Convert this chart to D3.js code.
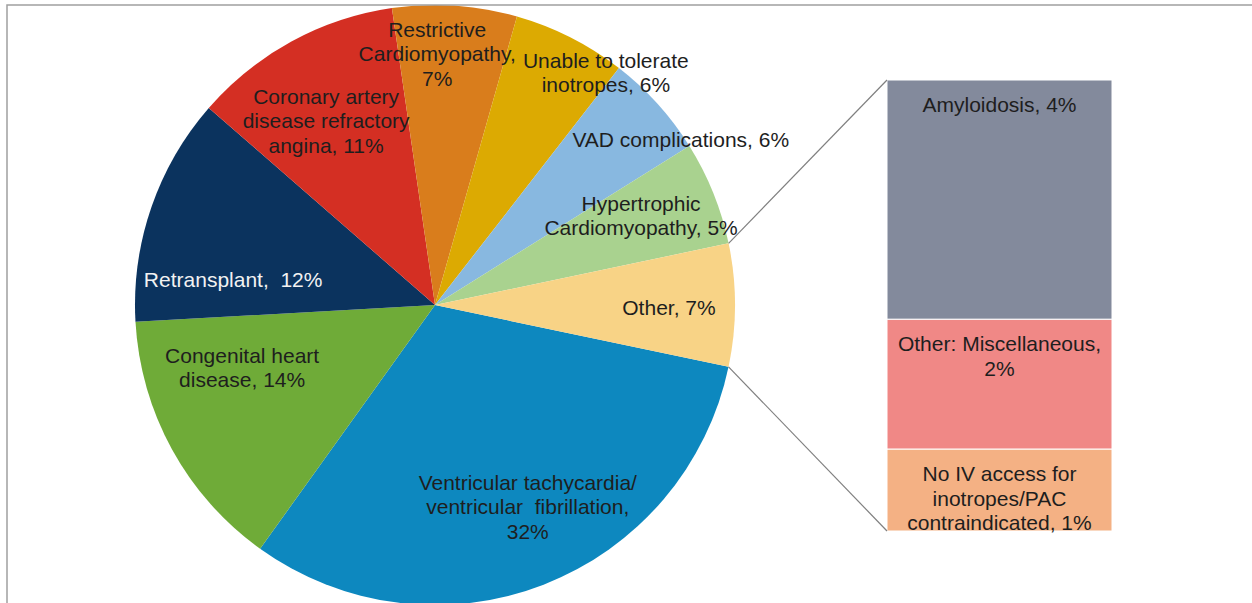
<!DOCTYPE html>
<html>
<head>
<meta charset="utf-8">
<script src="https://cdn.jsdelivr.net/npm/d3@7"></script>
<style>
  body { margin: 0; background: #fff; }
  svg { display: block; }
  text { font-family: "Liberation Sans", Arial, sans-serif; font-size: 21px; white-space: pre; }
</style>
</head>
<body>
<div id="chart"></div>
<script>
// Pie slices (share of patients, %), in clockwise order from VT/VF
var pieNames = ["VT/VF", "Congenital", "Retransplant", "CAD", "Restrictive",
                "Unable", "VAD", "Hypertrophic", "Other"];
var pieValues = [31.6, 14.2, 12.3, 11.3, 6.7, 6.1, 5.6, 5.6, 6.6];
var pieLabels = [
  ["Ventricular tachycardia/", "ventricular  fibrillation,", "32%"],
  ["Congenital heart", "disease, 14%"],
  ["Retransplant,  12%"],
  ["Coronary artery", "disease refractory", "angina, 11%"],
  ["Restrictive", "Cardiomyopathy,", "7%"],
  ["Unable to tolerate", "inotropes, 6%"],
  ["VAD complications, 6%"],
  ["Hypertrophic", "Cardiomyopathy, 5%"],
  ["Other, 7%"]
];

// Breakdown of "Other" (stacked bar, bottom to top)
var barNames = ["No IV access", "Miscellaneous", "Amyloidosis"];
var barValues = [1.2, 1.9, 3.5];
var barLabels = [
  ["No IV access for", "inotropes/PAC", "contraindicated, 1%"],
  ["Other: Miscellaneous,", "2%"],
  ["Amyloidosis, 4%"]
];

var svgWidth = 1252;
var svgHeight = 603;

var pieColors = ["#0d88bf", "#6fab38", "#0b335e", "#d42f23", "#d97d1c",
                 "#dcaa02", "#88b8e0", "#a9d28f", "#f8d386"];
var barColors = ["#f4b184", "#f08886", "#838a9c"];

// label anchors relative to pie centre: [angle in degrees, fraction of radius]
var pieLabelPolar = [[155.3, 0.74], [252, 0.676], [277.1, 0.678], [329.4, 0.713],
                     [0.5, 0.837], [36.3, 0.962], [56.1, 0.987], [66.5, 0.749], [90.5, 0.78]];

var cx = 435, cy = 305, radius = 300;
var bar = { left: 887, right: 1112, top: 80, bottom: 531 };
var lineHeight = 24.5;

var svg = d3.select("#chart")
  .append("svg")
  .attr("width", svgWidth)
  .attr("height", svgHeight);

var startDeg = 101.9;
var pie = d3.pie()
  .sort(null)
  .value(d => d)
  .startAngle(startDeg * Math.PI / 180)
  .endAngle(startDeg * Math.PI / 180 + 2 * Math.PI);

var arcs = pie(pieValues);

var arc = d3.arc().innerRadius(0).outerRadius(radius);

var pieGroup = svg.append("g")
  .attr("transform", `translate(${cx}, ${cy})`);

pieGroup.selectAll("path")
  .data(arcs)
  .enter()
  .append("path")
  .attr("d", arc)
  .attr("fill", (d, i) => pieColors[i]);

// multi-line labels centred on a point
function drawLines(group, lines, x, y, color) {
  var t = group.append("text")
    .attr("text-anchor", "middle")
    .attr("fill", color);
  lines.forEach(function(line, j) {
    t.append("tspan")
      .attr("x", x)
      .attr("y", y + (j - (lines.length - 1) / 2) * lineHeight + 7.5)
      .text(line);
  });
}

arcs.forEach(function(d, i) {
  var p = d3.pointRadial(pieLabelPolar[i][0] * Math.PI / 180, pieLabelPolar[i][1] * radius);
  drawLines(pieGroup, pieLabels[i], p[0], p[1], i === 2 ? "#f2f2f2" : "#1e1e1e");
});

// stacked bar for "Other"
var yScale = d3.scaleLinear()
  .domain([0, d3.sum(barValues)])
  .range([bar.bottom, bar.top]);

var stacked = [];
var acc = 0;
barValues.forEach(function(v, i) {
  stacked.push({ y0: acc, y1: acc + v, i: i });
  acc += v;
});

var barGroup = svg.append("g");

barGroup.selectAll("rect")
  .data(stacked)
  .enter()
  .append("rect")
  .attr("x", bar.left)
  .attr("width", bar.right - bar.left)
  .attr("y", d => yScale(d.y1))
  .attr("height", d => yScale(d.y0) - yScale(d.y1))
  .attr("fill", d => barColors[d.i])
  .attr("stroke", "#ffffff")
  .attr("stroke-width", 1);

stacked.forEach(function(d) {
  var lines = barLabels[d.i];
  var top = yScale(d.y1);
  var midX = (bar.left + bar.right) / 2;
  var t = barGroup.append("text").attr("text-anchor", "middle").attr("fill", "#1e1e1e");
  lines.forEach(function(line, j) {
    t.append("tspan")
      .attr("x", midX)
      .attr("y", top + 32 + j * lineHeight)
      .text(line);
  });
});

// connector lines from the "Other" slice to the bar
var other = arcs[arcs.length - 1];
var pTop = d3.pointRadial(other.startAngle, radius);
var pBottom = d3.pointRadial(other.endAngle, radius);

svg.append("line")
  .attr("x1", cx + pTop[0]).attr("y1", cy + pTop[1])
  .attr("x2", bar.left).attr("y2", yScale(d3.sum(barValues)))
  .attr("stroke", "#7f7f7f").attr("stroke-width", 1.2);

svg.append("line")
  .attr("x1", cx + pBottom[0]).attr("y1", cy + pBottom[1])
  .attr("x2", bar.left).attr("y2", yScale(0))
  .attr("stroke", "#7f7f7f").attr("stroke-width", 1.2);

// chart frame (top and left edges)
svg.append("path")
  .attr("d", `M7,${svgHeight} V5 H${svgWidth}`)
  .attr("fill", "none")
  .attr("stroke", "#a0a0a0")
  .attr("stroke-width", 1.5);
</script>
</body>
</html>
